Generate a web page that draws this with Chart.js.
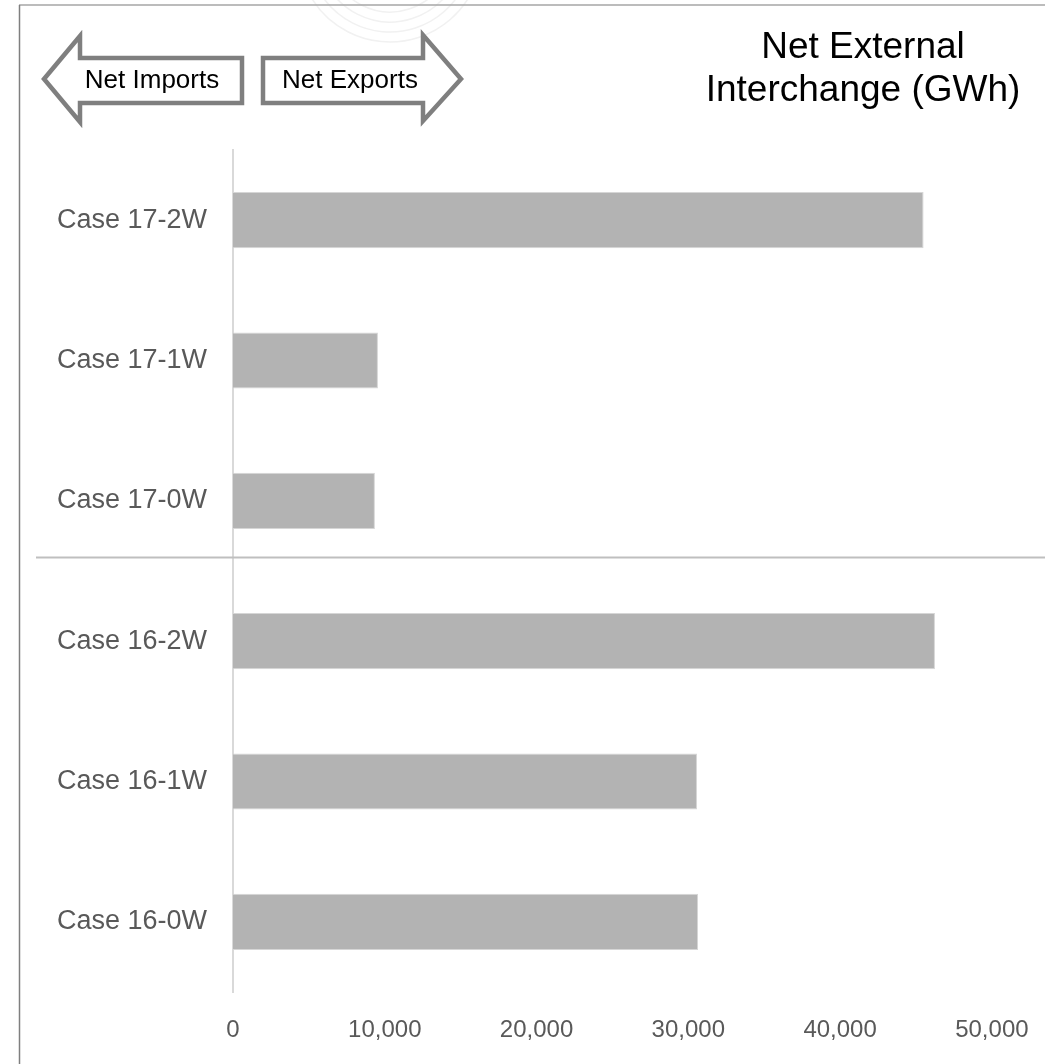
<!DOCTYPE html>
<html>
<head>
<meta charset="utf-8">
<script src="https://cdn.jsdelivr.net/npm/chart.js@4.4.1/dist/chart.umd.min.js"></script>
<style>
  html, body { margin: 0; padding: 0; background: #fff; }
  #wrap { width: 1045px; height: 1064px; position: relative; }
</style>
</head>
<body>
<div id="wrap"><canvas id="interchangeChart"></canvas></div>
<script>
const cases = ['Case 17-2W', 'Case 17-1W', 'Case 17-0W', 'Case 16-2W', 'Case 16-1W', 'Case 16-0W'];
const netInterchange = [45500, 9550, 9350, 46250, 30570, 30640];
const tickValues = [0, 10000, 20000, 30000, 40000, 50000];
const chartTitle = ['Net External', 'Interchange (GWh)'];
const arrowLabels = ['Net Imports', 'Net Exports'];

const narrow = "'Liberation Sans Narrow', 'Arial Narrow', 'Liberation Sans', Arial, sans-serif";
const regular = "'Liberation Sans', Arial, sans-serif";

// frame, arrows, title and the line that splits the 17 and 16 cases
const decorations = {
    id: 'decorations',
    beforeDraw(chart) {
        const ctx = chart.ctx;
        ctx.save();
        ctx.fillStyle = '#fff';
        ctx.fillRect(0, 0, chart.width, chart.height);
        // faint logo arcs behind the top edge
        ctx.strokeStyle = '#f1f1f1';
        ctx.lineWidth = 1.5;
        [62, 72, 82, 92].forEach(r => {
            ctx.beginPath();
            ctx.arc(390, -50, r, 0.15 * Math.PI, 0.85 * Math.PI);
            ctx.stroke();
        });
        ctx.restore();
    },
    afterDraw(chart) {
        const ctx = chart.ctx;
        const y = chart.scales.y;
        ctx.save();

        // outer frame (top and left only)
        ctx.strokeStyle = '#a6a6a6';
        ctx.lineWidth = 1.5;
        ctx.beginPath();
        ctx.moveTo(19, 5);
        ctx.lineTo(chart.width, 5);
        ctx.stroke();
        ctx.strokeStyle = '#7f7f7f';
        ctx.beginPath();
        ctx.moveTo(19.5, 5);
        ctx.lineTo(19.5, chart.height);
        ctx.stroke();

        // separator between the two case groups
        const sepY = Math.round(y.getPixelForValue(2.4)) + 0.5;
        ctx.strokeStyle = '#bfbfbf';
        ctx.lineWidth = 2;
        ctx.beginPath();
        ctx.moveTo(36, sepY);
        ctx.lineTo(chart.width, sepY);
        ctx.stroke();

        // direction arrows
        ctx.strokeStyle = '#7f7f7f';
        ctx.fillStyle = '#fff';
        ctx.lineWidth = 4.5;
        ctx.lineJoin = 'miter';
        const left = [[44, 79], [80, 36], [80, 58], [242, 58], [242, 103], [80, 103], [80, 122]];
        const right = [[263, 58], [423, 58], [423, 35], [461, 79], [423, 121], [423, 103], [263, 103]];
        [left, right].forEach(pts => {
            ctx.beginPath();
            pts.forEach((p, i) => i ? ctx.lineTo(p[0], p[1]) : ctx.moveTo(p[0], p[1]));
            ctx.closePath();
            ctx.fill();
            ctx.stroke();
        });
        ctx.fillStyle = '#000';
        ctx.font = '26px ' + narrow;
        ctx.textAlign = 'center';
        ctx.textBaseline = 'middle';
        ctx.fillText(arrowLabels[0], 152, 81);
        ctx.fillText(arrowLabels[1], 350, 81);

        // title
        ctx.font = '37px ' + regular;
        ctx.textBaseline = 'alphabetic';
        ctx.fillText(chartTitle[0], 863, 58);
        ctx.fillText(chartTitle[1], 863, 101);

        ctx.restore();
    }
};

new Chart(document.getElementById('interchangeChart'), {
    type: 'bar',
    data: {
        labels: cases,
        datasets: [{
            label: 'Net External Interchange (GWh)',
            data: netInterchange,
            backgroundColor: '#b3b3b3',
            borderColor: '#d6d6d6',
            borderWidth: 1,
            borderSkipped: 'start',
            categoryPercentage: 1.0,
            barPercentage: 0.4
        }]
    },
    options: {
        indexAxis: 'y',
        responsive: true,
        maintainAspectRatio: false,
        animation: false,
        layout: { padding: { top: 150, left: 0, right: 0, bottom: 0 } },
        plugins: {
            legend: { display: false },
            tooltip: { enabled: false }
        },
        scales: {
            x: {
                min: 0,
                max: 53500,
                grid: { display: false, drawTicks: false },
                border: { display: false },
                afterBuildTicks: scale => {
                    scale.ticks = tickValues.map(v => ({ value: v }));
                },
                afterFit: scale => {
                    scale.height = 72;
                    scale.paddingLeft = 0;
                    scale.paddingRight = 0;
                },
                ticks: {
                    padding: 24,
                    color: '#595959',
                    font: { family: narrow, size: 24 },
                    callback: v => Number(v).toLocaleString('en-US')
                }
            },
            y: {
                grid: { display: false, drawTicks: false },
                border: { display: true, color: '#d9d9d9', width: 2 },
                afterFit: scale => { scale.width = 233; },
                ticks: {
                    padding: 26,
                    color: '#595959',
                    font: { family: narrow, size: 27 }
                }
            }
        }
    },
    plugins: [decorations]
});
</script>
</body>
</html>
